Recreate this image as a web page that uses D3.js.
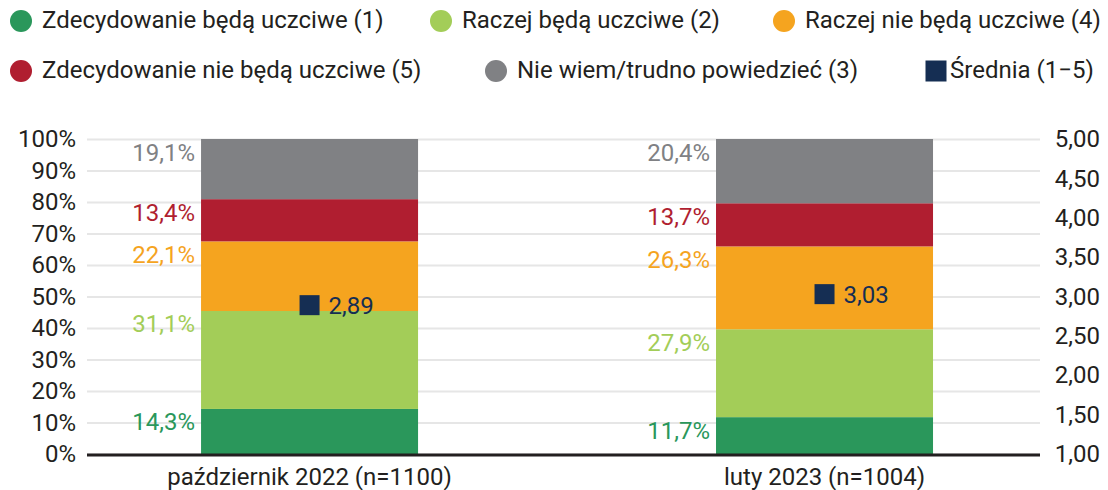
<!DOCTYPE html>
<html>
<head>
<meta charset="utf-8">
<script src="https://cdn.jsdelivr.net/npm/d3@7"></script>
<style>
  body { margin: 0; background: white; }
  svg { font-family: Roboto, "Noto Sans", sans-serif; }
</style>
</head>
<body>
<svg id="chart"></svg>
<script>
// categories (x axis)
const categories = ["październik 2022 (n=1100)", "luty 2023 (n=1004)"];

// series values in %, stacked bottom -> top
const zdecydowanieTak = [14.3, 11.7];
const raczejTak = [31.1, 27.9];
const raczejNie = [22.1, 26.3];
const zdecydowanieNie = [13.4, 13.7];
const nieWiem = [19.1, 20.4];

// mean on 1-5 scale
const srednia = [2.89, 3.03];

const pctTicks = [0, 10, 20, 30, 40, 50, 60, 70, 80, 90, 100];
const meanTicks = [1, 1.5, 2, 2.5, 3, 3.5, 4, 4.5, 5];

const series = [
    { name: "Zdecydowanie będą uczciwe (1)", values: zdecydowanieTak, color: "#2a975b" },
    { name: "Raczej będą uczciwe (2)", values: raczejTak, color: "#a3cd58" },
    { name: "Raczej nie będą uczciwe (4)", values: raczejNie, color: "#f5a41f" },
    { name: "Zdecydowanie nie będą uczciwe (5)", values: zdecydowanieNie, color: "#b01e30" },
    { name: "Nie wiem/trudno powiedzieć (3)", values: nieWiem, color: "#808184" }
];

const pl = d3.formatLocale({ decimal: ",", thousands: " ", grouping: [3], currency: ["", " zł"] });
const fmt1 = pl.format(".1f");
const fmt2 = pl.format(".2f");

const width = 1108;
const height = 490;
const margin = { top: 139, right: 68, bottom: 36, left: 87 };
const innerW = width - margin.left - margin.right;
const innerH = height - margin.top - margin.bottom;
const FS = "24px";

const svg = d3.select("#chart")
    .attr("width", width)
    .attr("height", height);

// legend
const legendItems = [
    { name: series[0].name, color: series[0].color, x: 21, y: 21, shape: "circle" },
    { name: series[1].name, color: series[1].color, x: 441, y: 21, shape: "circle" },
    { name: series[2].name, color: series[2].color, x: 784, y: 21, shape: "circle" },
    { name: series[3].name, color: series[3].color, x: 21, y: 71, shape: "circle" },
    { name: series[4].name, color: series[4].color, x: 496, y: 71, shape: "circle" },
    { name: "Średnia (1−5)", color: "#152e53", x: 936, y: 71, shape: "square" }
];

const legend = svg.append("g");
legendItems.forEach(it => {
    if (it.shape === "circle") {
        legend.append("circle")
            .attr("cx", it.x).attr("cy", it.y).attr("r", 11)
            .style("fill", it.color);
    } else {
        legend.append("rect")
            .attr("x", it.x - 10.5).attr("y", it.y - 10.5)
            .attr("width", 21).attr("height", 21)
            .style("fill", it.color);
    }
    legend.append("text")
        .attr("x", it.x + (it.shape === "circle" ? 21 : 14))
        .attr("y", it.y + 6.5)
        .style("font-size", FS)
        .style("fill", "#231f20")
        .text(it.name);
});

const g = svg.append("g")
    .attr("transform", `translate(${margin.left},${margin.top})`);

const xScale = d3.scaleBand()
    .domain(categories)
    .range([0, innerW])
    .paddingInner(0.5786)
    .paddingOuter(0.2146)
    .align(0.516);

const yScale = d3.scaleLinear()
    .domain([0, 100])
    .range([innerH, 0]);

const yMean = d3.scaleLinear()
    .domain([1, 5])
    .range([innerH, 0]);

// grid
const grid = d3.axisLeft(yScale)
    .tickValues(pctTicks)
    .tickSize(-innerW)
    .tickFormat("");
const gridG = g.append("g").call(grid);
gridG.select(".domain").remove();
gridG.selectAll("line").style("stroke", "#e6e6e6").style("stroke-width", 2);

// left axis
const yAxis = d3.axisLeft(yScale)
    .tickValues(pctTicks)
    .tickSize(0)
    .tickPadding(11)
    .tickFormat(d => d + "%");
const yAxisG = g.append("g").call(yAxis);
yAxisG.select(".domain").remove();
yAxisG.selectAll("text")
    .style("font-size", FS)
    .style("fill", "#231f20")
    .style("font-family", "Roboto");

// right axis
const yAxisR = d3.axisRight(yMean)
    .tickValues(meanTicks)
    .tickSize(0)
    .tickPadding(60)
    .tickFormat(d => fmt2(d));
const yAxisRG = g.append("g")
    .attr("transform", `translate(${innerW},0)`)
    .call(yAxisR);
yAxisRG.select(".domain").remove();
yAxisRG.selectAll("text")
    .attr("text-anchor", "end")
    .style("font-size", FS)
    .style("fill", "#231f20")
    .style("font-family", "Roboto");

// stack
const rows = categories.map((c, i) => {
    const r = { category: c };
    series.forEach((s, k) => { r["s" + k] = s.values[i]; });
    return r;
});
const stack = d3.stack().keys(series.map((s, k) => "s" + k));
const stacked = stack(rows);

stacked.forEach((layer, k) => {
    const lg = g.append("g");
    lg.selectAll("rect")
        .data(layer)
        .enter()
        .append("rect")
        .attr("x", d => xScale(d.data.category))
        .attr("y", d => yScale(d[1]))
        .attr("width", xScale.bandwidth())
        .attr("height", d => yScale(d[0]) - yScale(d[1]))
        .style("fill", series[k].color);

    // value labels left of bar, just under segment top
    lg.selectAll("text")
        .data(layer)
        .enter()
        .append("text")
        .attr("x", d => xScale(d.data.category) - 6)
        .attr("y", d => yScale(d[1]) + 21.5)
        .attr("text-anchor", "end")
        .style("font-size", FS)
        .style("fill", series[k].color)
        .text(d => fmt1(d[1] - d[0]) + "%");
});

// x axis baseline
g.append("line")
    .attr("x1", 0).attr("x2", innerW)
    .attr("y1", innerH + 1).attr("y2", innerH + 1)
    .style("stroke", "#231f20")
    .style("stroke-width", 3);

// category labels
const xAxis = d3.axisBottom(xScale).tickSize(0).tickPadding(14);
const xAxisG = g.append("g")
    .attr("transform", `translate(0,${innerH})`)
    .call(xAxis);
xAxisG.select(".domain").remove();
xAxisG.selectAll("text")
    .style("font-size", FS)
    .style("fill", "#231f20")
    .style("font-family", "Roboto");

// mean markers
const meanG = g.append("g");
meanG.selectAll("rect")
    .data(srednia)
    .enter()
    .append("rect")
    .attr("x", (d, i) => xScale(categories[i]) + xScale.bandwidth() / 2 - 10)
    .attr("y", d => yMean(d) - 10)
    .attr("width", 20)
    .attr("height", 20)
    .style("fill", "#152e53");

meanG.selectAll("text")
    .data(srednia)
    .enter()
    .append("text")
    .attr("x", (d, i) => xScale(categories[i]) + xScale.bandwidth() / 2 + 19)
    .attr("y", d => yMean(d) + 8.5)
    .style("font-size", FS)
    .style("fill", "#152e53")
    .text(d => fmt2(d));
</script>
</body>
</html>
